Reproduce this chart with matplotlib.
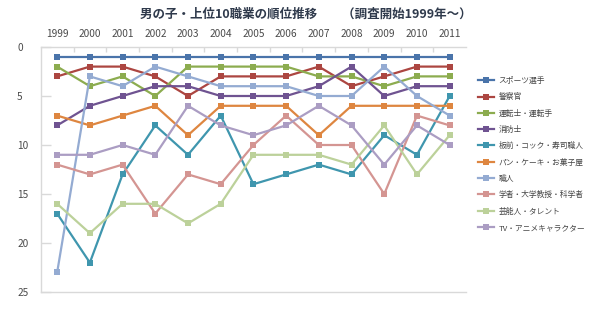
import matplotlib
matplotlib.use("Agg")
import matplotlib.pyplot as plt
from matplotlib.ticker import FixedLocator

plt.rcParams['font.family'] = ['Noto Sans CJK JP', 'DejaVu Sans']

years = ['1999', '2000', '2001', '2002', '2003', '2004', '2005',
         '2006', '2007', '2008', '2009', '2010', '2011']

sports = [1, 1, 1, 1, 1, 1, 1, 1, 1, 1, 1, 1, 1]
police = [3, 2, 2, 3, 5, 3, 3, 3, 2, 4, 3, 2, 2]
driver = [2, 4, 3, 5, 2, 2, 2, 2, 3, 3, 4, 3, 3]
firefighter = [8, 6, 5, 4, 4, 5, 5, 5, 4, 2, 5, 4, 4]
chef = [17, 22, 13, 8, 11, 7, 14, 13, 12, 13, 9, 11, 5]
baker = [7, 8, 7, 6, 9, 6, 6, 6, 9, 6, 6, 6, 6]
craftsman = [23, 3, 4, 2, 3, 4, 4, 4, 5, 5, 2, 5, 7]
scholar = [12, 13, 12, 17, 13, 14, 10, 7, 10, 10, 15, 7, 8]
entertainer = [16, 19, 16, 16, 18, 16, 11, 11, 11, 12, 8, 13, 9]
tv_anime = [11, 11, 10, 11, 6, 8, 9, 8, 6, 8, 12, 8, 10]

series = [
    ('スポーツ選手', sports, '#4a74aa'),
    ('警察官', police, '#ac4641'),
    ('運転士・運転手', driver, '#8cac4f'),
    ('消防士', firefighter, '#6f5391'),
    ('板前・コック・寿司職人', chef, '#3f96ae'),
    ('パン・ケーキ・お菓子屋', baker, '#de8640'),
    ('職人', craftsman, '#94abd2'),
    ('学者・大学教授・科学者', scholar, '#d49592'),
    ('芸能人・タレント', entertainer, '#bcd19a'),
    ('TV・アニメキャラクター', tv_anime, '#ab9dc3'),
]

fig = plt.figure(figsize=(6.0, 3.25), dpi=100)
ax = fig.add_axes([0.068, 0.1015, 0.7087, 0.7539])

x = list(range(len(years)))
for name, vals, col in series:
    ax.plot(x, vals, color=col, lw=1.6, marker='s', markersize=4.6,
            markeredgewidth=0, label=name, solid_joinstyle='miter')

ax.set_xlim(-0.5, len(years) - 0.5)
ax.set_ylim(25, 0)

grid_col = '#d9d9d9'
ax.spines['right'].set_visible(False)
for side in ('left', 'top', 'bottom'):
    ax.spines[side].set_color(grid_col)
    ax.spines[side].set_linewidth(1.0)

# category labels along the top
ax.xaxis.tick_top()
ax.set_xticks(x)
ax.set_xticklabels(years, fontsize=7.3, color='#4a4a4a')
ax.tick_params(axis='x', which='major', length=0, pad=6)
ax.xaxis.set_minor_locator(FixedLocator([i + 0.5 for i in x[:-1]]))
ax.tick_params(axis='x', which='minor', direction='in', length=3.6,
               color=grid_col, width=1.0, top=True, bottom=False)

ax.set_yticks([0, 5, 10, 15, 20, 25])
ax.set_yticklabels(['0', '5', '10', '15', '20', '25'], fontsize=7.3,
                   color='#4a4a4a')
ax.tick_params(axis='y', direction='in', length=7.2, width=1.0,
               color=grid_col, pad=17)
for lbl in ax.get_yticklabels():
    lbl.set_horizontalalignment('left')

fig.text(0.51, 0.955, '男の子・上位10職業の順位推移　　（調査開始1999年〜）',
         ha='center', va='center', fontsize=9.0, color='#2f3a4c',
         fontweight='bold')

leg = ax.legend(loc='upper left', bbox_to_anchor=(0.797, 0.763),
                bbox_transform=fig.transFigure, frameon=False,
                fontsize=5.6, handlelength=2.0, handletextpad=0.6,
                labelspacing=1.06, borderaxespad=0, borderpad=0)
for t in leg.get_texts():
    t.set_color('#444444')

fig.savefig('out.png', dpi=100, facecolor='white')
